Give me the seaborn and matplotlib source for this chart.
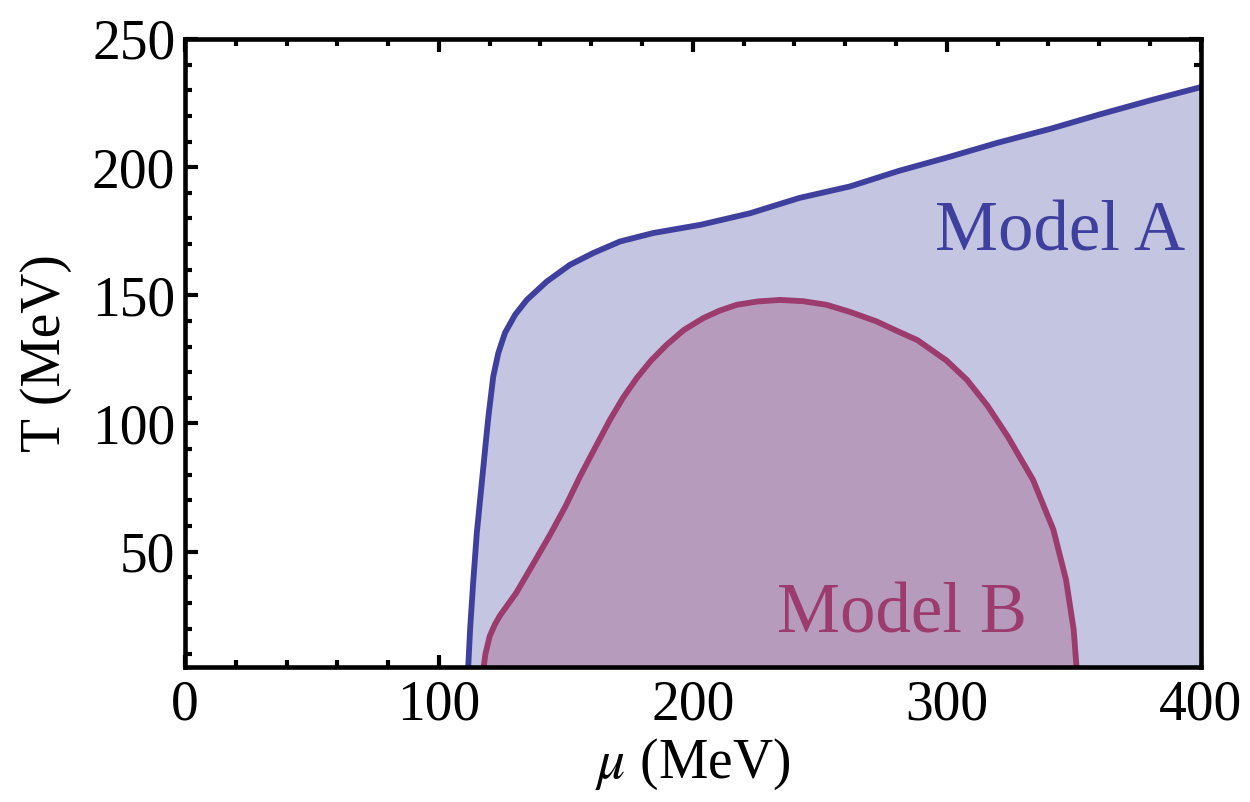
import matplotlib
matplotlib.use("Agg")
import matplotlib.pyplot as plt
import seaborn as sns
import pandas as pd
from matplotlib.ticker import MultipleLocator

# ---- data ----
model_a_mu = [111.5, 112.3, 113.5, 114.9, 116.2, 117.5, 118.5, 119.5, 121.4, 123.4,
              126.0, 130.0, 134.6, 142.5, 151.6, 160.8, 171.3, 184.4, 203.0, 222.5,
              242.0, 262.0, 281.0, 301.0, 320.0, 341.0, 360.0, 380.0, 400.0]
model_a_T = [4.0, 20.0, 38.0, 57.0, 70.0, 83.0, 93.0, 102.7, 118.3, 127.5,
             135.3, 142.4, 148.2, 155.4, 161.9, 166.5, 171.0, 174.3, 177.5, 182.0,
             188.0, 192.5, 198.5, 204.0, 209.5, 215.0, 220.5, 226.0, 231.2]

model_b_mu = [117.5, 118.3, 120.0, 122.0, 124.0, 130.5, 137.0, 144.0, 150.0, 155.6,
              161.5, 167.4, 172.5, 177.9, 183.5, 189.7, 196.5, 204.1, 210.5, 217.3,
              225.5, 234.3, 243.5, 252.7, 262.0, 272.4, 280.0, 288.5, 300.0, 308.0,
              316.0, 324.0, 334.0, 342.0, 347.0, 350.0, 351.2]
model_b_T = [4.0, 10.0, 17.0, 21.5, 25.0, 34.0, 45.0, 57.0, 68.0, 79.4,
             90.5, 101.5, 110.0, 117.7, 124.5, 130.7, 136.5, 141.1, 144.0, 146.3,
             147.6, 148.2, 147.7, 146.3, 143.5, 139.8, 136.3, 132.5, 124.5, 117.0,
             107.0, 95.0, 78.0, 58.6, 39.0, 19.6, 4.0]

x_ticks = [0, 100, 200, 300, 400]
y_ticks = [50, 100, 150, 200, 250]
labels = ["Model A", "Model B"]

line_a, fill_a = "#3F3F9E", "#C4C5E0"
line_b, fill_b = "#9B3B6E", "#B69BBD"

df_a = pd.DataFrame({"mu": model_a_mu, "T": model_a_T})
df_b = pd.DataFrame({"mu": model_b_mu, "T": model_b_T})

sns.set_theme(style="ticks")
plt.rcParams["font.family"] = ["Liberation Serif", "DejaVu Serif"]
plt.rcParams["mathtext.fontset"] = "stix"
plt.rcParams["text.color"] = "black"
plt.rcParams["axes.labelcolor"] = "black"
plt.rcParams["xtick.color"] = "black"
plt.rcParams["ytick.color"] = "black"

fig = plt.figure(figsize=(12.5, 8.02), dpi=100)
ax = fig.add_axes([0.148, 0.1683, 0.8125, 0.7831])

ax.fill_between(df_a["mu"], 0, df_a["T"], color=fill_a, lw=0, zorder=1)
ax.fill_between(df_b["mu"], 0, df_b["T"], color=fill_b, lw=0, zorder=1.1)
sns.lineplot(data=df_a, x="mu", y="T", sort=False, estimator=None, ax=ax,
             color=line_a, lw=4.2, zorder=2, solid_joinstyle="round", solid_capstyle="butt")
sns.lineplot(data=df_b, x="mu", y="T", sort=False, estimator=None, ax=ax,
             color=line_b, lw=4.2, zorder=2.1, solid_joinstyle="round", solid_capstyle="butt")

ax.text(394, 167.3, labels[0], color=line_a, fontsize=51, ha="right", va="baseline")
ax.text(331.6, 18.4, labels[1], color=line_b, fontsize=51, ha="right", va="baseline")

ax.set_xlim(0, 400)
ax.set_ylim(5, 250)
ax.set_xticks(x_ticks)
ax.set_yticks(y_ticks)
ax.xaxis.set_minor_locator(MultipleLocator(20))
ax.yaxis.set_minor_locator(MultipleLocator(10))
ax.tick_params(which="both", direction="in", top=True, right=True,
               color="black", labelcolor="black")
ax.tick_params(which="major", length=9, width=3, labelsize=40, pad=9)
ax.tick_params(which="minor", length=5, width=3)
ax.tick_params(axis="y", which="major", pad=7)
for s in ax.spines.values():
    s.set_linewidth(3.3)
    s.set_color("black")
    s.set_zorder(5)

ax.set_xlabel(r"$\mu$ (MeV)", fontsize=40, labelpad=4, color="black")
ax.set_ylabel("T (MeV)", fontsize=40, labelpad=14, color="black")

fig.savefig("out.png", dpi=100)
